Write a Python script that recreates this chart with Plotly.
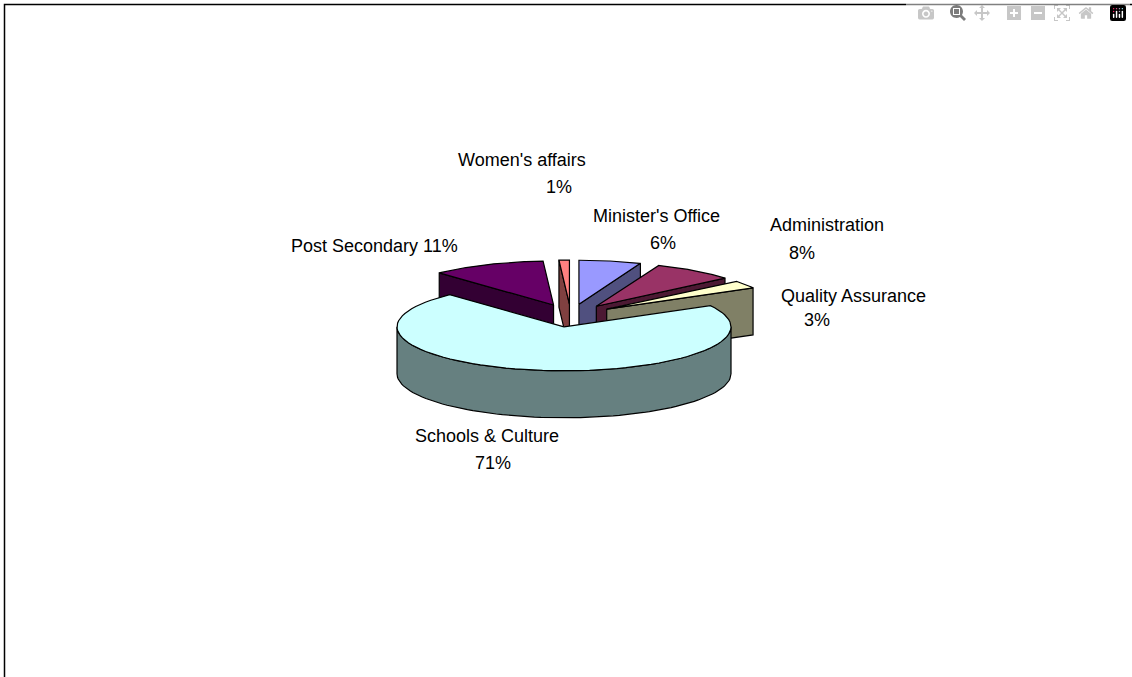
import numpy as np
import plotly.graph_objects as go

# slices, clockwise from 12 o'clock
categories = ["Minister's Office", "Administration", "Quality Assurance",
              "Schools & Culture", "Post Secondary", "Women's affairs"]
shares = [6, 8, 3, 71, 11, 1]
top_colors = ["#9999FF", "#993366", "#FFFFCC", "#CCFFFF", "#660066", "#FF8080"]
side_colors = ["#50507F", "#4C1933", "#808066", "#668080", "#330033", "#804040"]

# label text lines are placed separately, like the wrapped labels in the original
name_pos = [(656, 216), (826.5, 225), (853, 296), (486.5, 436), (374.5, 246), (521.5, 160)]
pct_pos = [(663, 243), (802, 253), (817, 320), (492.5, 463), None, (559, 187)]

# pie projection, in pixels of the page
CX, CY = 570.8, 315.5
RX, RY = 167, 44
DEPTH = 47
EXPLODE = 0.26


def rim(theta, ox, oy, drop=0):
    t = np.radians(theta)
    return ox + RX * np.sin(t), oy - RY * np.cos(t) + drop


def add_poly(fig, xs, ys, color):
    fig.add_trace(go.Scatter(
        x=list(xs) + [xs[0]], y=list(ys) + [ys[0]],
        mode="lines", fill="toself", fillcolor=color,
        line=dict(color="black", width=1.2),
        hoverinfo="skip", showlegend=False,
    ))


def add_cut_face(fig, theta, ox, oy, color):
    rx, ry = rim(theta, ox, oy)
    add_poly(fig, [ox, rx, rx, ox], [oy, ry, ry + DEPTH, oy + DEPTH], color)


def add_slice(fig, t0, t1, color, side):
    mid = np.radians((t0 + t1) / 2)
    ox = CX + EXPLODE * RX * np.sin(mid)
    oy = CY - EXPLODE * RY * np.cos(mid)

    # only faces turned towards the viewer
    if np.sin(np.radians(t0)) < -1e-6:
        add_cut_face(fig, t0, ox, oy, side)
    if np.sin(np.radians(t1)) > 1e-6:
        add_cut_face(fig, t1, ox, oy, side)
    w0, w1 = max(t0, 90), min(t1, 270)
    if w0 < w1:
        arc = np.linspace(w0, w1, 80)
        ax, ay = rim(arc, ox, oy)
        bx, by = rim(arc[::-1], ox, oy, DEPTH)
        add_poly(fig, np.r_[ax, bx], np.r_[ay, by], side)

    arc = np.linspace(t0, t1, 80)
    ax, ay = rim(arc, ox, oy)
    add_poly(fig, np.r_[ox, ax], np.r_[oy, ay], color)


fig = go.Figure()

edges = np.cumsum([0] + shares) / sum(shares) * 360
mids = (edges[:-1] + edges[1:]) / 2
# back slices first, so the front ones cover them
for i in np.argsort(-np.cos(np.radians(mids))):
    add_slice(fig, edges[i], edges[i + 1], top_colors[i], side_colors[i])

for i, name in enumerate(categories):
    pct = f"{shares[i]}%"
    if pct_pos[i] is None:
        lines = [(f"{name} {pct}", name_pos[i])]
    else:
        lines = [(name, name_pos[i]), (pct, pct_pos[i])]
    for text, (x, y) in lines:
        fig.add_annotation(x=x, y=y, text=text, showarrow=False,
                           xanchor="center", yanchor="middle",
                           font=dict(family="Liberation Sans", size=18, color="black"))

# chart frame, only its top and left edges are on the page
fig.add_shape(type="rect", x0=4.5, y0=4.5, x1=1200, y1=760,
              line=dict(color="black", width=1.5), layer="below")

fig.update_xaxes(range=[0, 1132], visible=False)
fig.update_yaxes(range=[677, 0], visible=False)
fig.update_layout(width=1132, height=677, margin=dict(l=0, r=0, t=0, b=0),
                  paper_bgcolor="white", plot_bgcolor="white")

fig.write_html("out.html", post_script="document.body.style.margin='0';")
